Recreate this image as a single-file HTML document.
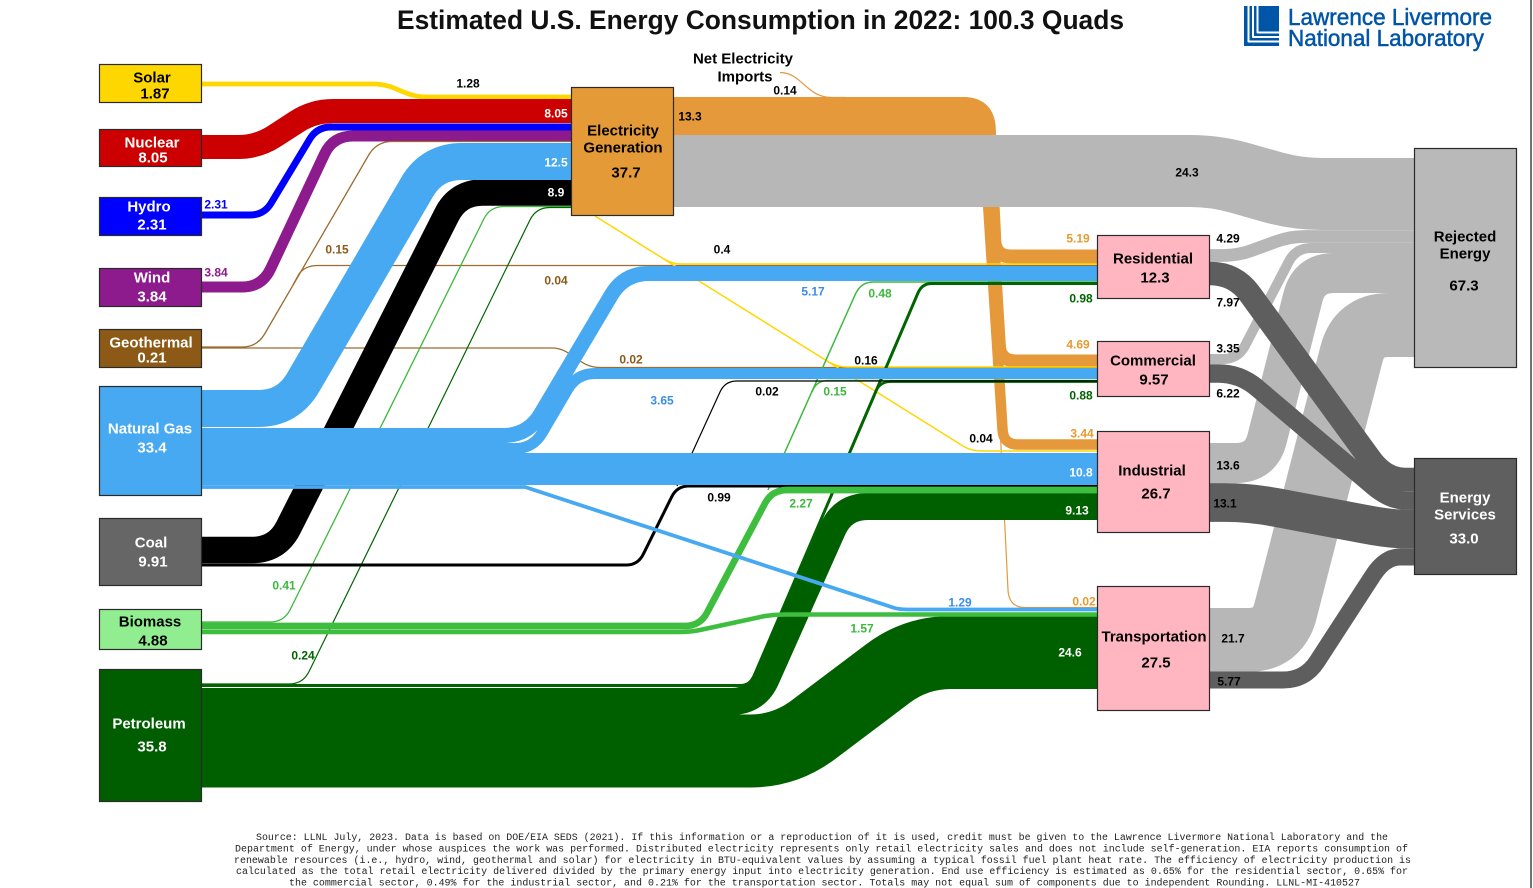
<!DOCTYPE html>
<html>
<head>
<meta charset="utf-8">
<style>
html,body{margin:0;padding:0;background:#fff;}
svg{display:block;}
</style>
</head>
<body>
<svg width="1533" height="888" viewBox="0 0 1533 888" xmlns="http://www.w3.org/2000/svg" font-family="'Liberation Sans', Arial, sans-serif">
<rect width="1533" height="888" fill="#fff"/>

<!-- Title -->
<text x="760.5" y="29" text-anchor="middle" font-size="26.4" font-weight="bold" fill="#111" textLength="727" lengthAdjust="spacingAndGlyphs">Estimated U.S. Energy Consumption in 2022: 100.3 Quads</text>

<!-- LLNL logo -->
<rect x="1244" y="6" width="35" height="40" fill="#0055A6"/>
<g fill="none" stroke="#fff" stroke-width="2" stroke-linejoin="round">
<path d="M1248.5,6 V41.5 H1279"/>
<path d="M1253,6 V37 H1279"/>
<path d="M1257.5,6 V32.5 H1279"/>
</g>
<text x="1288" y="25" font-size="23" fill="#0055A6" stroke="#0055A6" stroke-width="0.5" textLength="204" lengthAdjust="spacingAndGlyphs">Lawrence Livermore</text>
<text x="1288" y="46" font-size="23" fill="#0055A6" stroke="#0055A6" stroke-width="0.5" textLength="196" lengthAdjust="spacingAndGlyphs">National Laboratory</text>

<line x1="1531" y1="0" x2="1531" y2="888" stroke="#444" stroke-width="1.5"/>

<g fill="none" stroke-linecap="butt">
<!-- Electricity to sectors (orange) -->
<g stroke="#E5993A">
<path d="M673,104 L963,104 Q988,104 988.8,129 L994.3,240.5 Q995,256.5 1011,256.5 L1098,256.5" stroke-width="14"/>
<path d="M673,117.5 L961,117.5 Q986,117.5 986.8,142.5 L999.3,345 Q1000,361 1016,361 L1098,361" stroke-width="13"/>
<path d="M673,130 L959,130 Q984,130 984.9,155 L1002.5,429 Q1003,444.5 1018,444.5 L1098,444.5" stroke-width="10.5"/>
<path d="M673,135 L975,135 Q986,135 986.5,150 L1008,590 Q1009,607.5 1025,607.5 L1098,607.5" stroke-width="1.2"/>
<path d="M780,72.5 C802,72.5 806,97.5 832,97.5 L845,97.5" stroke-width="1.2"/>
</g>
<path d="M673,97 L962,97 Q991,97 991.5,128 L992,140 L673,140 Z" fill="#E5993A" stroke="none"/>

<!-- Rejected from electricity -->
<path d="M673,171 L1190,171 Q1215,171 1239,177.7 L1273,187.3 Q1297,194 1322,194 L1415,194" stroke="#B7B7B7" stroke-width="72"/>

<!-- Rejected from sectors -->
<g stroke="#B7B7B7">
<path d="M1209,255.5 L1223,255.5 Q1238,255.5 1252,250.4 L1276,241.6 Q1290,236.5 1305,236.5 L1415,236.5" stroke-width="12.7"/>
<path d="M1209,359 L1223,359 Q1238,359 1245,345.7 L1289,261.3 Q1296,248 1311,248 L1415,248" stroke-width="10"/>
<path d="M1209,463 L1236,463 Q1261,463 1267.1,438.8 L1302.9,297.2 Q1309,273 1334,273 L1415,273" stroke-width="40"/>
<path d="M1209,640 L1248,640 Q1278,640 1285.5,611 L1351.5,354 Q1359,325 1389,325 L1415,325" stroke-width="64"/>
</g>

<!-- Energy services -->
<g stroke="#5E5E5E">
<path d="M1209,273.5 L1210,273.5 Q1235,273.5 1249.7,293.7 L1370.3,459.3 Q1385,479.5 1405,479.5 L1415,479.5" stroke-width="23.6"/>
<path d="M1209,373.5 L1218,373.5 Q1240,373.5 1256.8,387.7 L1373.2,486.3 Q1390,500.5 1406,500.5 L1415,500.5" stroke-width="18.4"/>
<path d="M1209,502.5 L1225,502.5 Q1250,502.5 1274.6,507.2 L1365.4,524.3 Q1390,529 1405,529 L1415,529" stroke-width="38.8"/>
<path d="M1209,680 L1283,680 Q1305,680 1317,661.6 L1373,575.4 Q1385,557 1400,557 L1415,557" stroke-width="17"/>
</g>

<!-- Solar, Nuclear, Hydro, Wind -->
<path d="M201,84 L373,84 Q385,84 396,88.8 L404,92.2 Q415,97 427,97 L572,97" stroke="#FFD700" stroke-width="4.8"/>
<path d="M201,147 L238,147 Q258,147 274.7,136 L296.3,122 Q313,111 333,111 L572,111" stroke="#CC0000" stroke-width="24"/>
<path d="M201,215 L250,215 Q264,215 271.2,203 L309.8,139 Q317,127 331,127 L572,127" stroke="#0000FF" stroke-width="7"/>
<path d="M201,287 L242,287 Q262,287 270.5,268.9 L324.5,154.1 Q333,136 353,136 L572,136" stroke="#8D1B8D" stroke-width="11"/>

<!-- Geothermal -->
<g stroke="#9C6B30" stroke-width="1.3">
<path d="M201,347 L242,347 Q257,347 264.6,334 L369,154.5 Q377,141.5 392,141.5 L572,141.5"/>
<path d="M293,285 L299,274 Q305,265.5 318,265.5 L1098,265.5"/>
<path d="M201,348 L552,348 C572,348 578,367.5 600,367.5 L1098,367.5"/>
</g>

<!-- Solar thin to sectors -->
<g stroke="#FFD700" stroke-width="1.5">
<path d="M595,216 L963,446 Q971,451 981,451 L1098,451"/>
<path d="M664,259 Q672,264 682,264 L1098,264"/>
<path d="M829,362 Q837,367 847,367 L1098,367"/>
</g>

<!-- thin green / black lines -->
<path d="M202,622 L270,622 Q284,622 290.2,609.5 L483.8,219 Q490,206.5 504,206.5 L572,206.5" stroke="#3CB83C" stroke-width="1.3"/>
<path d="M202,684 L289,684 Q303,684 309.1,671.4 L529.9,220.1 Q536,207.5 550,207.5 L572,207.5" stroke="#006400" stroke-width="1.2"/>
<path d="M768,490 L855,295 Q860.6,282 873,282 L1098,282" stroke="#3CB83C" stroke-width="1.5"/>
<path d="M812,392 Q816,380.5 828,380.5 L1098,380.5" stroke="#3CB83C" stroke-width="1.5"/>
<path d="M202,685.5 L740,685.5 Q750,685.5 753.9,676.3 L918.1,292.7 Q922,283.5 932,283.5 L1098,283.5" stroke="#006400" stroke-width="3"/>
<path d="M876,391 Q880,381.5 892,381.5 L1098,381.5" stroke="#006400" stroke-width="2.7"/>
<path d="M677,486 L720,392 Q725,381 737,381 L1098,381" stroke="#000" stroke-width="1.2"/>
<path d="M202,565 L626,565 Q638,565 643.3,554.2 L671.7,496.8 Q677,486 689,486 L1098,486" stroke="#000" stroke-width="3"/>

<!-- Coal to electricity -->
<path d="M201,550 L252,550 Q277,550 288.3,527.7 L446.7,214.8 Q458,192.5 483,192.5 L572,192.5" stroke="#000" stroke-width="26.5"/>

<!-- Petroleum -->
<path d="M201,751 L750,751 Q785,751 813,730 L888,673.5 Q916,652.5 951,652.5 L1098,652.5" stroke="#006000" stroke-width="73"/>
<path d="M201,701.5 L731,701.5 Q756,701.5 766.2,678.7 L832.8,529.3 Q843,506.5 868,506.5 L1098,506.5" stroke="#006000" stroke-width="27"/>

<!-- Biomass -->
<path d="M201,626 L685,626 Q700,626 707,612.7 L765,503.3 Q772,490 787,490 L1098,490" stroke="#3EBE3E" stroke-width="6.7"/>
<path d="M201,632 L680,632 Q690,632 700,630 L765,616 Q775,614.5 785,614.5 L1098,614.5" stroke="#3EBE3E" stroke-width="4.6"/>

<!-- Natural gas -->
<g stroke="#46A9F1">
<path d="M201,408.5 L258,408.5 Q288,408.5 303.1,382.6 L416.9,187.4 Q432,161.5 462,161.5 L572,161.5" stroke-width="37"/>
<path d="M201,448.5 L515,448.5 Q533,448.5 542.1,433 L567.9,389 Q577,373.5 595,373.5 L1098,373.5" stroke-width="11"/>
<path d="M201,435.5 L503,435.5 Q528,435.5 540.7,414 L611.3,295 Q624,273.5 649,273.5 L1098,273.5" stroke-width="15"/>
<path d="M201,469 L1098,469" stroke-width="32"/>
<path d="M201,487 L525,487 L893,607.5 Q898,609.5 910,609.5 L1098,609.5" stroke-width="3.8"/>
</g>
</g>

<!-- Boxes -->
<g stroke="#2a2a2a" stroke-width="1.2">
<rect x="99.5" y="64.5" width="102" height="38" fill="#FFD700"/>
<rect x="99.5" y="129.5" width="102" height="37" fill="#CC0000"/>
<rect x="99.5" y="197.5" width="102" height="38" fill="#0000FF"/>
<rect x="99.5" y="268.5" width="102" height="38" fill="#8D1B8D"/>
<rect x="99.5" y="329.5" width="102" height="38" fill="#8C5A16"/>
<rect x="99.5" y="386.5" width="102" height="109" fill="#46A9F1"/>
<rect x="99.5" y="518.5" width="102" height="67" fill="#666666"/>
<rect x="99.5" y="609.5" width="102" height="40" fill="#90EE90"/>
<rect x="99.5" y="669.5" width="102" height="132" fill="#005E00"/>
<rect x="571.5" y="87.5" width="102" height="128" fill="#E59A38"/>
<rect x="1097.5" y="235.5" width="112" height="63" fill="#FFB6C1"/>
<rect x="1097.5" y="341.5" width="112" height="55" fill="#FFB6C1"/>
<rect x="1097.5" y="431.5" width="112" height="101" fill="#FFB6C1"/>
<rect x="1097.5" y="586.5" width="112" height="124" fill="#FFB6C1"/>
<rect x="1414.5" y="148.5" width="102" height="219" fill="#B9B9B9"/>
<rect x="1414.5" y="458.5" width="102" height="116" fill="#5F5F5F"/>
</g>

<!-- Node labels -->
<g font-size="15" font-weight="bold" text-anchor="middle">
<text x="152" y="82.5" fill="#000">Solar</text>
<text x="155" y="98.5" fill="#000">1.87</text>
<text x="152" y="147.5" fill="#fff">Nuclear</text>
<text x="153" y="162.5" fill="#fff">8.05</text>
<text x="149" y="211.5" fill="#fff">Hydro</text>
<text x="152" y="229.5" fill="#fff">2.31</text>
<text x="152" y="282.5" fill="#fff">Wind</text>
<text x="152" y="301.5" fill="#fff">3.84</text>
<text x="151" y="347.5" fill="#fff">Geothermal</text>
<text x="152" y="362.5" fill="#fff">0.21</text>
<text x="150" y="433.5" fill="#fff">Natural Gas</text>
<text x="152" y="452.5" fill="#fff">33.4</text>
<text x="151" y="547.5" fill="#fff">Coal</text>
<text x="153" y="566.5" fill="#fff">9.91</text>
<text x="150" y="626.5" fill="#000">Biomass</text>
<text x="153" y="645.5" fill="#000">4.88</text>
<text x="149" y="728.5" fill="#fff">Petroleum</text>
<text x="152" y="751.5" fill="#fff">35.8</text>
<text x="623" y="135.5" fill="#000">Electricity</text>
<text x="623" y="152.5" fill="#000">Generation</text>
<text x="626" y="177.5" fill="#000">37.7</text>
<text x="743" y="63.5" fill="#000">Net Electricity</text>
<text x="745" y="81.5" fill="#000">Imports</text>
<text x="1153" y="263.5" fill="#000">Residential</text>
<text x="1155" y="282.5" fill="#000">12.3</text>
<text x="1153" y="365.5" fill="#000">Commercial</text>
<text x="1154" y="384.5" fill="#000">9.57</text>
<text x="1152" y="475.5" fill="#000">Industrial</text>
<text x="1156" y="498.5" fill="#000">26.7</text>
<text x="1154" y="641.5" fill="#000">Transportation</text>
<text x="1156" y="667.5" fill="#000">27.5</text>
<text x="1465" y="241.5" fill="#000">Rejected</text>
<text x="1465" y="258.5" fill="#000">Energy</text>
<text x="1464" y="290.5" fill="#000">67.3</text>
<text x="1465" y="502.5" fill="#fff">Energy</text>
<text x="1465" y="519.5" fill="#fff">Services</text>
<text x="1464" y="543.5" fill="#fff">33.0</text>
</g>

<!-- Flow value labels -->
<g font-size="12" font-weight="bold" text-anchor="middle">
<g fill="#000">
<text x="468" y="87.3">1.28</text>
<text x="690" y="120.3">13.3</text>
<text x="785" y="94.3">0.14</text>
<text x="1187" y="176.3">24.3</text>
<text x="722" y="253.3">0.4</text>
<text x="866" y="364.3">0.16</text>
<text x="767" y="395.3">0.02</text>
<text x="981" y="442.3">0.04</text>
<text x="719" y="501.3">0.99</text>
<text x="1228" y="242.3">4.29</text>
<text x="1228" y="306.3">7.97</text>
<text x="1228" y="352.3">3.35</text>
<text x="1228" y="397.3">6.22</text>
<text x="1228" y="469.3">13.6</text>
<text x="1225" y="507.3">13.1</text>
<text x="1233" y="642.3">21.7</text>
<text x="1229" y="685.3">5.77</text>
</g>
<g fill="#fff">
<text x="556" y="117.3">8.05</text>
<text x="556" y="166.3">12.5</text>
<text x="556" y="196.3">8.9</text>
<text x="1081" y="476.3">10.8</text>
<text x="1077" y="514.3">9.13</text>
<text x="1070" y="656.3">24.6</text>
</g>
<g fill="#E8992F">
<text x="1078" y="242.3">5.19</text>
<text x="1078" y="348.3">4.69</text>
<text x="1082" y="437.5">3.44</text>
<text x="1084" y="605.3">0.02</text>
</g>
<g fill="#8B5A1A">
<text x="337" y="253.3">0.15</text>
<text x="556" y="284.3">0.04</text>
<text x="631" y="363.3">0.02</text>
</g>
<text x="216" y="208.3" fill="#0000FF">2.31</text>
<text x="216" y="276.3" fill="#8B1A8B">3.84</text>
<g fill="#3A8EE6">
<text x="813" y="295.3">5.17</text>
<text x="662" y="404.3">3.65</text>
<text x="960" y="606.3">1.29</text>
</g>
<g fill="#3CB83C">
<text x="880" y="297.3">0.48</text>
<text x="835" y="395.3">0.15</text>
<text x="801" y="507.3">2.27</text>
<text x="862" y="632.3">1.57</text>
<text x="284" y="589.3">0.41</text>
</g>
<g fill="#006400">
<text x="1081" y="302.3">0.98</text>
<text x="1081" y="399.3">0.88</text>
<text x="303" y="659.3">0.24</text>
</g>
</g>

<!-- Footer -->
<g font-family="'Liberation Mono', 'Courier New', monospace" font-size="10" fill="#222" text-anchor="middle" xml:space="preserve">
<text x="822" y="840" textLength="1132" lengthAdjust="spacingAndGlyphs">Source: LLNL July, 2023. Data is based on DOE/EIA SEDS (2021). If this information or a reproduction of it is used, credit must be given to the Lawrence Livermore National Laboratory and the</text>
<text x="821.5" y="851.5" textLength="1173" lengthAdjust="spacingAndGlyphs">Department of Energy, under whose auspices the work was performed. Distributed electricity represents only retail electricity sales and does not include self-generation.  EIA reports consumption of</text>
<text x="822.5" y="863" textLength="1177" lengthAdjust="spacingAndGlyphs">renewable resources (i.e., hydro, wind, geothermal and solar) for electricity in BTU-equivalent values by assuming a typical fossil fuel plant heat rate.  The efficiency of electricity production is</text>
<text x="822" y="874" textLength="1172" lengthAdjust="spacingAndGlyphs">calculated as the total retail electricity delivered divided by the primary energy input into electricity generation.  End use efficiency is estimated as 0.65% for the residential sector, 0.65% for</text>
<text x="824.5" y="885.5" textLength="1071" lengthAdjust="spacingAndGlyphs">the commercial sector, 0.49% for the industrial sector, and 0.21% for the transportation sector.  Totals may not equal sum of components due to independent Rounding. LLNL-MI-410527</text>
</g>
</svg>
</body>
</html>
